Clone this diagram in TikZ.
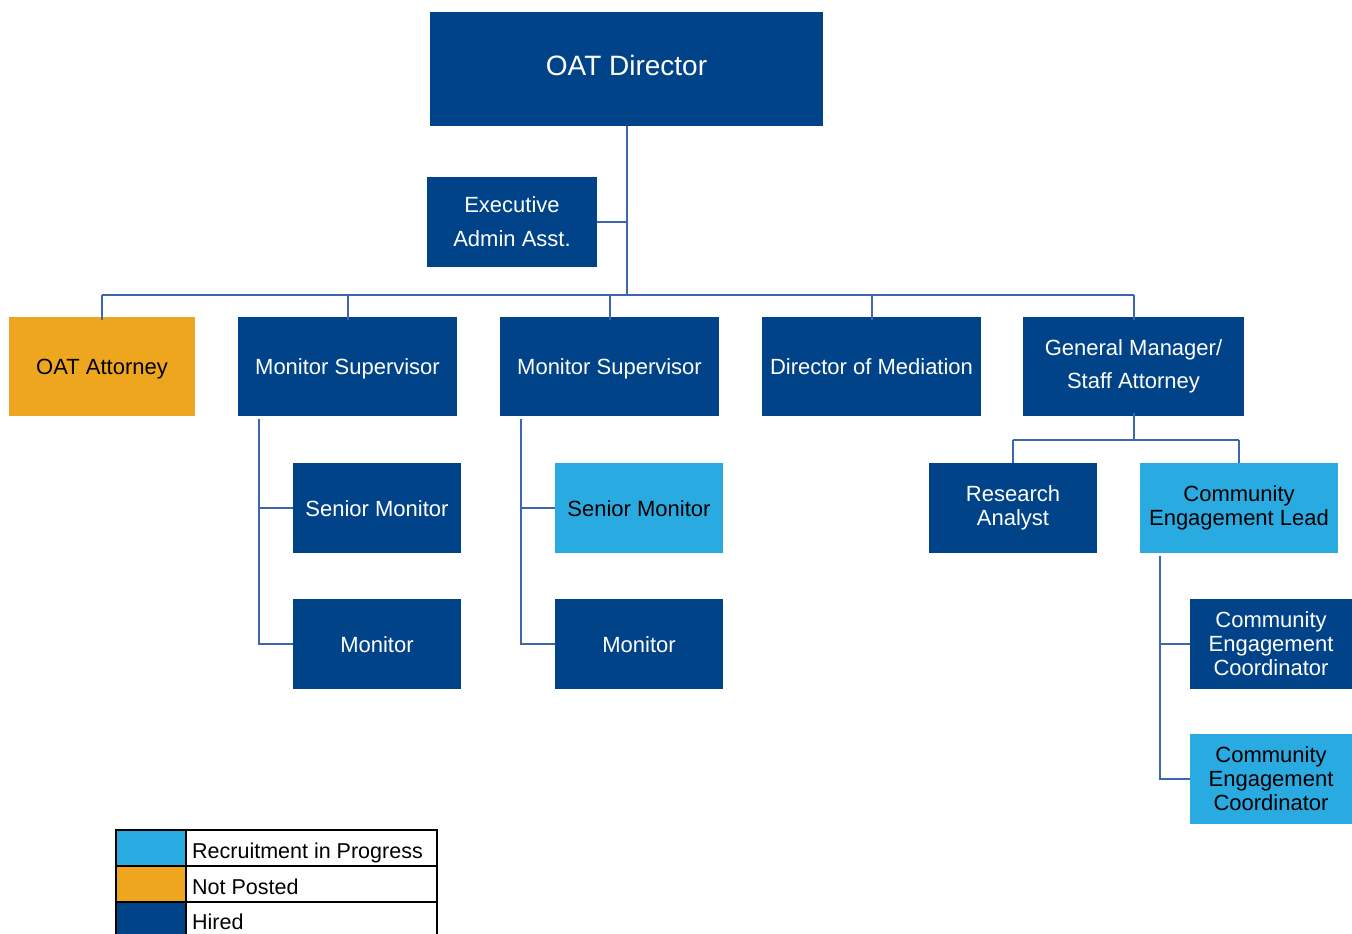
\documentclass[tikz,border=0pt]{standalone}
\usepackage{fontspec}
\setmainfont{Liberation Sans}
\definecolor{hired}{RGB}{0,67,136}
\definecolor{recruit}{RGB}{41,170,225}
\definecolor{notposted}{RGB}{239,166,31}
\definecolor{linec}{RGB}{62,102,172}
\tikzset{
  box/.style={rectangle, inner sep=0pt, align=center, font=\fontsize{22}{24}\selectfont},
  hiredbox/.style={box, fill=hired, text=white},
  recruitbox/.style={box, fill=recruit, text=black},
  notpostedbox/.style={box, fill=notposted, text=black},
  oneline/.style={text height=16pt, text depth=0pt},
  conn/.style={draw=linec, line width=2pt},
  legtext/.style={anchor=base west, inner sep=0pt, font=\fontsize{21.5}{24}\selectfont},
}
\begin{document}
\begin{tikzpicture}[x=1pt,y=-1pt]
\useasboundingbox (0,0) rectangle (1352,934);
\clip (0,0) rectangle (1352,934);
% level 0
\node[hiredbox, minimum width=393, minimum height=114, font=\fontsize{28}{32}\selectfont, text height=20pt, text depth=6pt] (dir) at (626.5,69) {OAT Director};
\node[hiredbox, minimum width=170, minimum height=90, font=\fontsize{22}{34}\selectfont] (exec) at (512,222) {Executive\\Admin Asst.};
% level 1
\node[notpostedbox, oneline, minimum width=186, minimum height=99] (att) at (102,366.5) {OAT Attorney};
\node[hiredbox, oneline, minimum width=219, minimum height=99] (ms1) at (347.5,366.5) {Monitor Supervisor};
\node[hiredbox, oneline, minimum width=219, minimum height=99] (ms2) at (609.5,366.5) {Monitor Supervisor};
\node[hiredbox, oneline, minimum width=219, minimum height=99] (med) at (871.5,366.5) {Director of Mediation};
\node[hiredbox, minimum width=221, minimum height=99, font=\fontsize{22}{33}\selectfont] (gm) at (1133.5,366.5) {General Manager/\\Staff Attorney};
% level 2
\node[hiredbox, oneline, minimum width=168, minimum height=90] (sm1) at (377,508) {Senior Monitor};
\node[hiredbox, oneline, minimum width=168, minimum height=90] (mon1) at (377,644) {Monitor};
\node[recruitbox, oneline, minimum width=168, minimum height=90] (sm2) at (639,508) {Senior Monitor};
\node[hiredbox, oneline, minimum width=168, minimum height=90] (mon2) at (639,644) {Monitor};
\node[hiredbox, minimum width=168, minimum height=90] (ra) at (1013,508) {Research\\Analyst};
\node[recruitbox, minimum width=198, minimum height=90] (cel) at (1239,508) {Community\\Engagement Lead};
\node[hiredbox, minimum width=162, minimum height=90] (cec1) at (1271,644) {Community\\Engagement\\Coordinator};
\node[recruitbox, minimum width=162, minimum height=90] (cec2) at (1271,779) {Community\\Engagement\\Coordinator};
% connectors
\coordinate (bus) at (626.5,295);
\draw[conn] (dir.south) -- (bus);
\draw[conn] (exec.east) -- (exec.east -| dir.south);
\draw[conn] (att.north |- bus) -- (gm.north |- bus);
\foreach \n in {att,ms1,ms2,med,gm}
  \draw[conn] (\n.north |- bus) -- ([yshift=-3pt]\n.north);
\coordinate (t1) at (259,419);
\draw[conn] (t1) |- (mon1.west);
\draw[conn] (t1 |- sm1.west) -- (sm1.west);
\coordinate (t2) at (521,419);
\draw[conn] (t2) |- (mon2.west);
\draw[conn] (t2 |- sm2.west) -- (sm2.west);
\coordinate (g) at (1133.5,440);
\draw[conn] ([yshift=3pt]gm.south) -- (g);
\draw[conn] (ra.north |- g) -- (cel.north |- g);
\draw[conn] (ra.north |- g) -- (ra.north);
\draw[conn] (cel.north |- g) -- (cel.north);
\coordinate (t3) at (1160,556);
\draw[conn] (t3) |- (cec2.west);
\draw[conn] (t3 |- cec1.west) -- (cec1.west);
% legend
\fill[recruit] (116,830) rectangle (186,866);
\fill[notposted] (116,866) rectangle (186,902);
\fill[hired] (116,902) rectangle (186,940);
\draw[black, line width=2pt] (116,830) rectangle (437,940);
\draw[black, line width=2pt] (116,866) -- (437,866);
\draw[black, line width=2pt] (116,902) -- (437,902);
\draw[black, line width=2pt] (186,830) -- (186,940);
\node[legtext] (l1) at (192,858) {Recruitment in Progress};
\node[legtext] (l2) at (192,894) {Not Posted};
\node[legtext] (l3) at (192,929) {Hired};
\end{tikzpicture}
\end{document}
